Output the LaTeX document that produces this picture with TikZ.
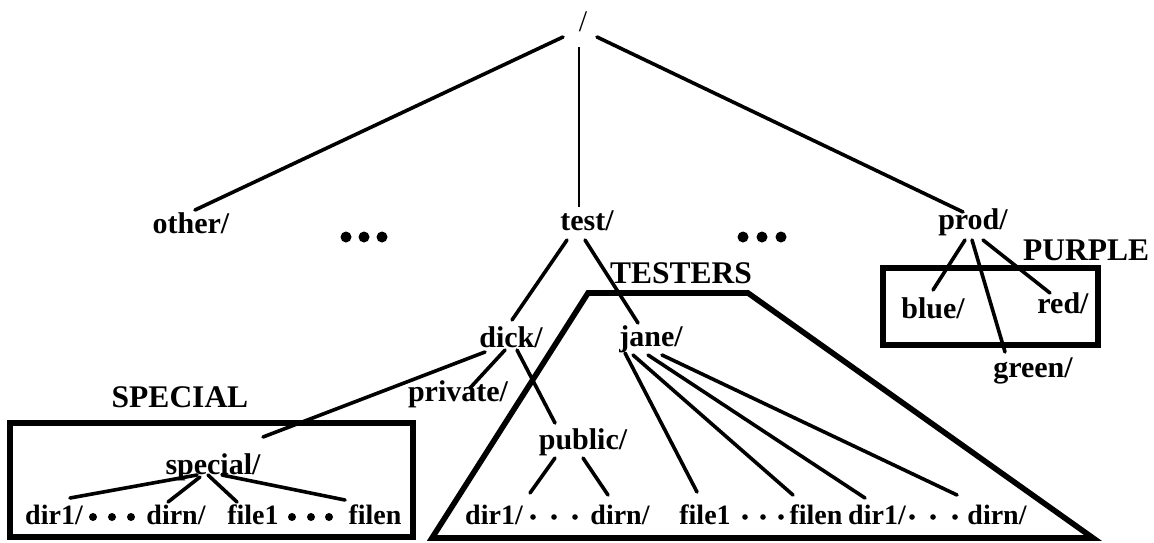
\documentclass[tikz,border=0pt]{standalone}
\usepackage{fontspec}
\setmainfont{Liberation Serif}
\usetikzlibrary{calc}
\begin{document}
\begin{tikzpicture}[x=0.5pt,y=-0.5pt,
  lbl/.style={anchor=base,inner sep=0pt,font=\bfseries\fontsize{15}{15}\selectfont},
  grp/.style={anchor=base,inner sep=0pt,font=\bfseries\fontsize{15.75}{16}\selectfont},
  leaf/.style={anchor=base,inner sep=0pt,font=\bfseries\fontsize{14}{14}\selectfont},
  edge/.style={line width=1.8pt,line cap=round},
  thinedge/.style={line width=1.1pt},
  frame/.style={line width=2.8pt}]
\useasboundingbox (0,0) rectangle (1154,542);
\fill[white] (0,0) rectangle (1154,542);

% root and first level
\node[inner sep=0pt,font=\fontsize{15}{15}\selectfont] (root) at (583,22) {/};
\node[lbl] (other) at (191,233) {other/};
\node[lbl] (test) at (587,230) {test/};
\node[lbl] (prod) at (973,229) {prod/};

% ellipses
\foreach \x in {346,364,382,743,762,781} \fill (\x,237) circle[radius=5.5];

\draw[edge] ($(root)+(-20,15)$) -- ($(other.base)+(4,-23)$);
\draw[thinedge] ($(root)+(-4,25)$) -- ($(test.base)+(-8,-23)$);
\draw[edge] ($(root)+(14,15)$) -- ($(prod.base)+(-10,-17)$);

% test subtree
\node[lbl] (dick) at (511,347) {dick/};
\node[lbl] (jane) at (651,346) {jane/};
\node[lbl] (private) at (458,401) {private/};
\node[lbl] (public) at (583,449) {public/};
\node[lbl] (special) at (213,474) {special/};

\draw[edge] ($(test.base)+(-20,10)$) -- ($(dick.base)+(1,-27)$);
\draw[edge] ($(test.base)+(-2,10)$) -- ($(jane.base)+(-13,-23)$);
\draw[edge] ($(dick.base)+(-26,5)$) -- ($(special.base)+(50,-37)$);
\draw[edge] ($(dick.base)+(-6,3)$) -- ($(private.base)+(12,-13)$);
\draw[edge] ($(dick.base)+(6,3)$) -- ($(public.base)+(-28,-26)$);

% group labels
\node[grp] (lspecial) at (180,407) {SPECIAL};
\node[grp] (ltesters) at (681,283) {TESTERS};
\node[grp] (lpurple) at (1086,260) {PURPLE};

% SPECIAL box
\coordinate (sbA) at (10,423);
\coordinate (sbB) at (413,537);
\draw[frame] (sbA) rectangle (sbB);
\node[leaf] (sdir1) at (54,524) {dir1/};
\node[leaf] (sdirn) at (176,524) {dirn/};
\node[leaf] (sfile1) at (253,524) {file1};
\node[leaf] (sfilen) at (375,524) {filen};
\foreach \x in {93,112,131,292,311,329} \fill (\x,517) circle[radius=4];
\draw[edge] ($(special.base)+(-16,1)$) -- ($(sdir1.base)+(16,-26)$);
\draw[edge] ($(special.base)+(-13,3)$) -- ($(sdirn.base)+(-8,-22)$);
\draw[edge] ($(special.base)+(-5,1)$) -- ($(sfile1.base)+(-16,-22)$);
\draw[edge] ($(special.base)+(9,1)$) -- ($(sfilen.base)+(-30,-24)$);

% TESTERS trapezoid
\coordinate (ttl) at (588,293);
\coordinate (ttr) at (748,293);
\coordinate (tbr) at (1093,538);
\coordinate (tbl) at (432,538);
\draw[frame] (ttl) -- (ttr) -- (tbr) -- (tbl) -- cycle;

\node[leaf] (tdir1) at (494,524) {dir1/};
\node[leaf] (tdirn) at (620,524) {dirn/};
\node[leaf] (tfile1) at (705,524) {file1};
\node[leaf] (tfilen) at (816,524) {filen};
\node[leaf] (tdir1b) at (877,524) {dir1/};
\node[leaf] (tdirnb) at (997,524) {dirn/};
\foreach \x in {533,554,575,745,763,781,912,933,955} \fill (\x,517) circle[radius=2.8];

\draw[edge] ($(public.base)+(-28,9)$) -- ($(tdir1.base)+(36,-31)$);
\draw[edge] ($(public.base)+(0,9)$) -- ($(tdirn.base)+(-12,-29)$);
\draw[edge] ($(jane.base)+(-26,7)$) -- ($(tfile1.base)+(-8,-32)$);
\draw[edge] ($(jane.base)+(-18,9)$) -- ($(tfilen.base)+(-23,-29)$);
\draw[edge] ($(jane.base)+(-3,9)$) -- ($(tdir1b.base)+(-12,-26)$);
\draw[edge] ($(jane.base)+(11,9)$) -- ($(tdirnb.base)+(-40,-29)$);

% PURPLE box
\coordinate (pbA) at (883,268);
\coordinate (pbB) at (1098,345);
\draw[frame] (pbA) rectangle (pbB);
\node[lbl] (blue) at (933,318) {blue/};
\node[lbl] (red) at (1063,313) {red/};
\node[lbl] (green) at (1033,377) {green/};
\draw[edge] ($(prod.base)+(-8,11)$) -- ($(blue.base)+(0,-28)$);
\draw[edge] ($(prod.base)+(-1,11)$) -- ($(green.base)+(-28,-25)$);
\draw[edge] ($(prod.base)+(10,11)$) -- ($(red.base)+(-13,-20)$);
\end{tikzpicture}
\end{document}
